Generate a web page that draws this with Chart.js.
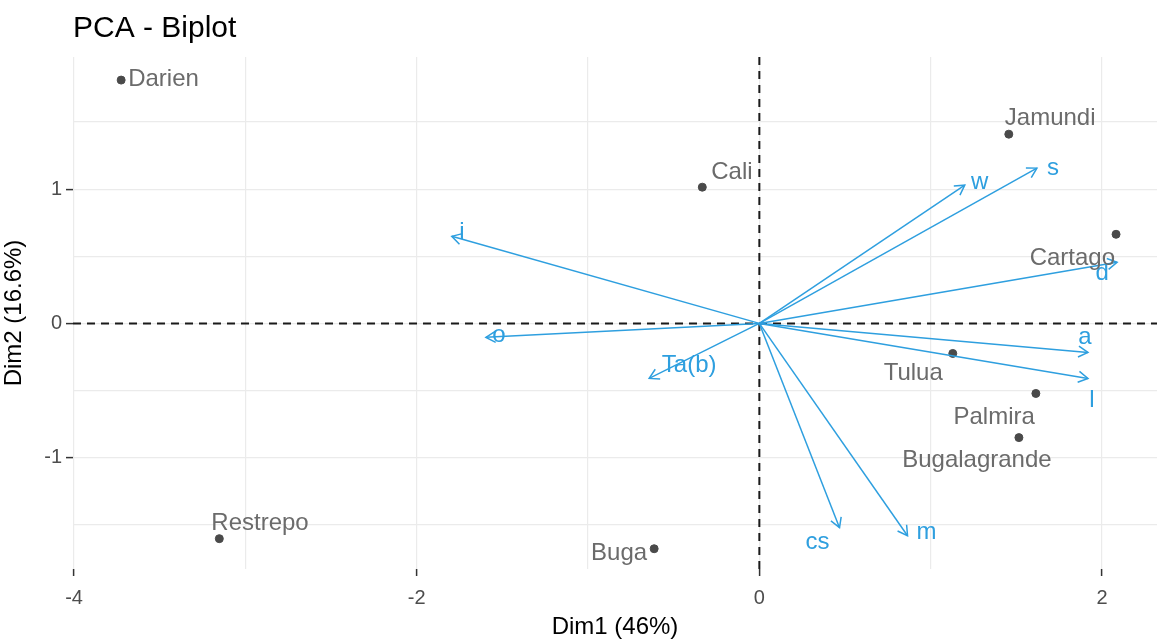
<!DOCTYPE html>
<html>
<head>
<meta charset="utf-8">
<script src="https://cdn.jsdelivr.net/npm/chart.js@4/dist/chart.umd.min.js"></script>
<style>
  html, body { margin: 0; padding: 0; background: #fff; overflow: hidden; }
  #wrap { width: 1162px; height: 642px; position: relative; }
</style>
</head>
<body>
<div id="wrap"><canvas id="biplot"></canvas></div>
<script>
// individuals (municipios)
const indNames = ["Darien", "Jamundi", "Cali", "Cartago", "Tulua", "Palmira", "Bugalagrande", "Restrepo", "Buga"];
const indDim1 = [-3.725, 1.456, -0.333, 2.082, 1.129, 1.614, 1.515, -3.152, -0.614];
const indDim2 = [1.813, 1.410, 1.015, 0.664, -0.224, -0.522, -0.851, -1.604, -1.679];

// variables (arrows)
const varNames = ["i", "o", "Ta(b)", "w", "s", "d", "a", "l", "cs", "m"];
const varDim1 = [-1.795, -1.596, -0.643, 1.199, 1.620, 2.088, 1.918, 1.918, 0.468, 0.865];
const varDim2 = [0.649, -0.104, -0.410, 1.030, 1.157, 0.455, -0.216, -0.410, -1.522, -1.582];

// axis ticks
const xTicks = [-4, -3, -2, -1, 0, 1, 2];
const xLabelled = [-4, -2, 0, 2];
const yTicks = [-1.5, -1, -0.5, 0, 0.5, 1, 1.5];
const yLabelled = [-1, 0, 1];

// label placement (pixel offsets from the mark, like ggrepel did)
const indLabelPos = [
  ["left", 7, -1], ["left", -4, -16], ["left", 9, -15], ["right", -1, 24],
  ["right", -10, 20], ["right", -1, 24], ["center", -42, 23], ["left", -8, -15], ["right", -7, 5]
];
const varLabelPos = [
  [10, -4], [13, -2], [40, -13], [15, -3], [16, 0], [-15, 11], [-3, -15], [4, 22], [-22, 15], [19, -3]
];

const BLUE = "#2E9FDF";
const IND_COL = "#4a4a4a";
const LABEL_GREY = "#6b6b6b";
const FONT = "'Liberation Sans', Arial, sans-serif";

const datasets = varNames.map((n, i) => ({
  label: n,
  type: "line",
  data: [{ x: 0, y: 0 }, { x: varDim1[i], y: varDim2[i] }],
  borderColor: BLUE,
  borderWidth: 1.5,
  pointRadius: 0,
  fill: false,
  order: 1
}));
datasets.push({
  label: "individuals",
  type: "scatter",
  data: indNames.map((n, i) => ({ x: indDim1[i], y: indDim2[i] })),
  backgroundColor: IND_COL,
  borderColor: IND_COL,
  pointRadius: 4,
  order: 2
});

const biplotExtras = {
  id: "biplotExtras",
  beforeDatasetsDraw(chart) {
    const { ctx, chartArea: a, scales } = chart;
    const x0 = scales.x.getPixelForValue(0);
    const y0 = scales.y.getPixelForValue(0);
    ctx.save();
    ctx.strokeStyle = "#1a1a1a";
    ctx.lineWidth = 2;
    ctx.setLineDash([8, 6]);
    ctx.beginPath();
    ctx.moveTo(a.left, y0); ctx.lineTo(a.right, y0);
    ctx.moveTo(x0, a.top); ctx.lineTo(x0, a.bottom);
    ctx.stroke();
    ctx.restore();
  },
  afterDatasetsDraw(chart) {
    const { ctx, scales } = chart;
    const sx = scales.x, sy = scales.y;
    ctx.save();
    // arrow heads
    ctx.strokeStyle = BLUE;
    ctx.lineWidth = 1.5;
    varNames.forEach((n, i) => {
      const px = sx.getPixelForValue(varDim1[i]);
      const py = sy.getPixelForValue(varDim2[i]);
      const ox = sx.getPixelForValue(0);
      const oy = sy.getPixelForValue(0);
      const ang = Math.atan2(py - oy, px - ox);
      const len = 11, spread = Math.PI / 6;
      ctx.beginPath();
      ctx.moveTo(px - len * Math.cos(ang - spread), py - len * Math.sin(ang - spread));
      ctx.lineTo(px, py);
      ctx.lineTo(px - len * Math.cos(ang + spread), py - len * Math.sin(ang + spread));
      ctx.stroke();
    });
    // variable labels
    ctx.font = "24px " + FONT;
    ctx.fillStyle = BLUE;
    ctx.textBaseline = "middle";
    ctx.textAlign = "center";
    varNames.forEach((n, i) => {
      const px = sx.getPixelForValue(varDim1[i]);
      const py = sy.getPixelForValue(varDim2[i]);
      ctx.fillText(n, px + varLabelPos[i][0], py + varLabelPos[i][1]);
    });
    // individual labels
    ctx.fillStyle = LABEL_GREY;
    indNames.forEach((n, i) => {
      const px = sx.getPixelForValue(indDim1[i]);
      const py = sy.getPixelForValue(indDim2[i]);
      const p = indLabelPos[i];
      ctx.textAlign = p[0];
      ctx.fillText(n, px + p[1], py + p[2]);
    });
    // title
    ctx.fillStyle = "#000";
    ctx.textAlign = "left";
    ctx.textBaseline = "alphabetic";
    ctx.font = "30px " + FONT;
    ctx.fillText("PCA - Biplot", chart.chartArea.left, 37);
    ctx.restore();
  }
};

new Chart(document.getElementById("biplot"), {
  type: "scatter",
  data: { datasets: datasets },
  plugins: [biplotExtras],
  options: {
    responsive: true,
    maintainAspectRatio: false,
    animation: false,
    layout: { padding: { top: 57, right: 0, left: 0, bottom: 0 } },
    plugins: { legend: { display: false }, tooltip: { enabled: false } },
    scales: {
      x: {
        type: "linear",
        min: -4.006,
        max: 2.321,
        afterBuildTicks: (s) => { s.ticks = xTicks.map(v => ({ value: v })); },
        afterFit: (s) => { s.height = 73; s.paddingLeft = 0; s.paddingRight = 0; },
        border: { display: false },
        grid: {
          color: "#ebebeb",
          lineWidth: 1.2,
          tickLength: 7,
          tickWidth: 1.5,
          tickColor: (c) => (c.tick && xLabelled.includes(c.tick.value)) ? "#333" : "rgba(0,0,0,0)"
        },
        ticks: {
          padding: 10,
          maxRotation: 0,
          autoSkip: false,
          color: "#4d4d4d",
          font: { size: 20, family: FONT },
          callback: (v) => xLabelled.includes(v) ? String(v) : ""
        },
        title: {
          display: true,
          text: "Dim1 (46%)",
          color: "#000",
          font: { size: 24, family: FONT },
          padding: { top: 0, bottom: 0 }
        }
      },
      y: {
        type: "linear",
        min: -1.83,
        max: 1.985,
        afterBuildTicks: (s) => { s.ticks = yTicks.map(v => ({ value: v })); },
        afterFit: (s) => { s.width = 73; s.paddingTop = 0; s.paddingBottom = 0; },
        border: { display: false },
        grid: {
          color: "#ebebeb",
          lineWidth: 1.2,
          tickLength: 7,
          tickWidth: 1.5,
          tickColor: (c) => (c.tick && yLabelled.includes(c.tick.value)) ? "#333" : "rgba(0,0,0,0)"
        },
        ticks: {
          padding: 4,
          autoSkip: false,
          color: "#4d4d4d",
          font: { size: 20, family: FONT },
          callback: (v) => yLabelled.includes(v) ? String(v) : ""
        },
        title: {
          display: true,
          text: "Dim2 (16.6%)",
          color: "#000",
          font: { size: 24, family: FONT },
          padding: { top: 0, bottom: 0 }
        }
      }
    }
  }
});
</script>
</body>
</html>
